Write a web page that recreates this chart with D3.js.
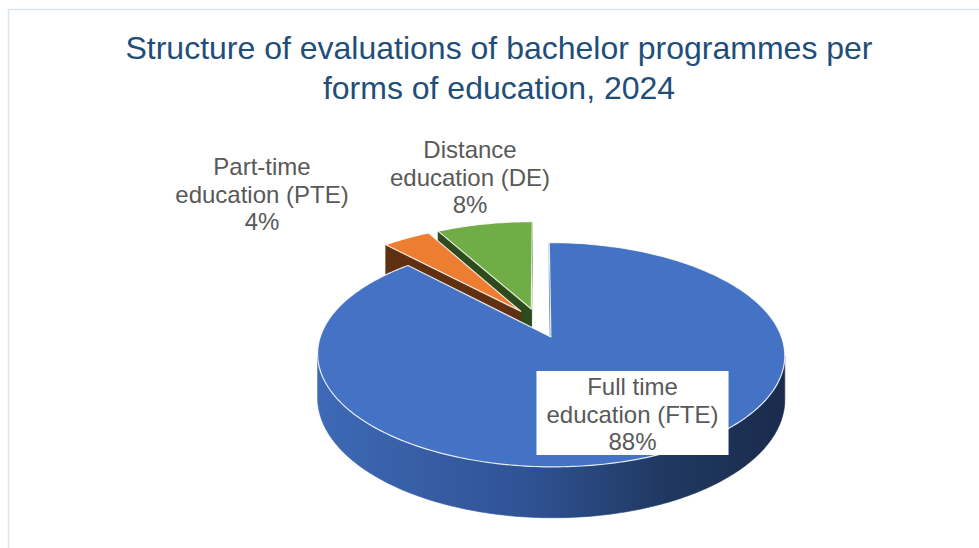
<!DOCTYPE html>
<html>
<head>
<meta charset="utf-8">
<script src="https://cdn.jsdelivr.net/npm/d3@7"></script>
<style>
  body { margin: 0; background: #fff; }
  svg { display: block; }
  text { font-family: "Liberation Sans", Arial, sans-serif; }
</style>
</head>
<body>
<div id="chart"></div>
<script>
// data
const titleLines = ["Structure of evaluations of bachelor programmes per", "forms of education, 2024"];
const categories = ["Full time education (FTE)", "Part-time education (PTE)", "Distance education (DE)"];
const labelLines = [["Full time", "education (FTE)"], ["Part-time", "education (PTE)"], ["Distance", "education (DE)"]];
const shares = [88, 4, 8];

// styling
const topColors = ["#4472C4", "#ED7D31", "#70AD47"];
const sideColors = ["#2c4c8c", "#5f3112", "#2e4b1e"];

const width = 979, height = 548;

// 3d pie layout (tilted disc with a little perspective)
const cx = 539, cy = 323;     // projected centre of top face
const Sx = 226, Sy = 105;     // radii of the disc on screen
const persp = 0.155;          // foreshortening of far side
const depth = 42;             // thickness of the disc
const explode = 0.14;         // share of radius each slice is pulled out

// where the labels sit (centre x, first baseline)
const labelPos = [
  { x: 632.5, y: 395, box: true },
  { x: 262, y: 175 },
  { x: 470, y: 158 }
];
const lineGap = 27.5;

const svg = d3.select("#chart")
  .append("svg")
  .attr("width", width)
  .attr("height", height);

// chart area border (runs off the page right and bottom)
svg.append("rect")
  .attr("x", 8.5)
  .attr("y", 9.5)
  .attr("width", width + 20)
  .attr("height", height + 20)
  .attr("fill", "none")
  .attr("stroke", "#d9e4f1")
  .attr("stroke-width", 1.5);

// title
svg.append("text")
  .attr("text-anchor", "middle")
  .attr("fill", "#1f4e79")
  .style("font-size", "32px")
  .selectAll("tspan")
  .data(titleLines)
  .join("tspan")
  .attr("x", 499)
  .attr("y", (d, i) => 59 + i * 40)
  .text(d => d);

// pie angles: 0 at twelve o'clock, clockwise
const pie = d3.pie().sort(null).value(d => d);
const arcs = pie(shares);

function project(u, w, h) {
  const p = 1 / (1 + persp * w);
  return [cx + Sx * u * p, cy - Sy * w * p + depth * h * p];
}

const slices = arcs.map((a, i) => {
  const mid = (a.startAngle + a.endAngle) / 2;
  return {
    i,
    a0: a.startAngle,
    a1: a.endAngle,
    mid,
    u0: explode * Math.sin(mid),
    w0: explode * Math.cos(mid)
  };
});

function rim(s, t, h) {
  return project(s.u0 + Math.sin(t), s.w0 + Math.cos(t), h);
}

function arcPoints(s, t0, t1, h) {
  const n = Math.max(2, Math.ceil(Math.abs(t1 - t0) / (Math.PI / 180)));
  return d3.range(n + 1).map(j => rim(s, t0 + (t1 - t0) * j / n, h));
}

// silhouette angles of the curved side (x extremes of the rim)
function silhouette(s) {
  const steps = d3.range(0, 1801).map(j => j * Math.PI / 1800);
  const tR = d3.greatest(steps, t => rim(s, t, 0)[0]);
  const tL = d3.least(steps.map(t => t + Math.PI), t => rim(s, t, 0)[0]);
  return [tR, tL];
}

const path = pts => "M" + pts.map(p => p[0].toFixed(2) + "," + p[1].toFixed(2)).join("L") + "Z";

// gradient for the big slice's outer wall
const [gR, gL] = silhouette(slices[0]);
const grad = svg.append("defs").append("linearGradient")
  .attr("id", "sideGrad")
  .attr("gradientUnits", "userSpaceOnUse")
  .attr("x1", rim(slices[0], gL, 0)[0])
  .attr("x2", rim(slices[0], gR, 0)[0])
  .attr("y1", 0).attr("y2", 0);
[["0", "#3e69b6"], ["0.45", "#2f5294"], ["0.75", "#203860"], ["1", "#1a2b4c"]].forEach(([o, c]) =>
  grad.append("stop").attr("offset", o).attr("stop-color", c));

// paint far slices first
const order = slices.slice().sort((a, b) =>
  (b.w0 + 0.5 * Math.cos(b.mid)) - (a.w0 + 0.5 * Math.cos(a.mid)));

const pieG = svg.append("g");

order.forEach(s => {
  const g = pieG.append("g");
  const sideFill = s.i === 0 ? "url(#sideGrad)" : sideColors[s.i];
  const c0 = project(s.u0, s.w0, 0), c1 = project(s.u0, s.w0, 1);

  // radial walls, kept only when facing the viewer
  const walls = [
    [c0, rim(s, s.a0, 0), rim(s, s.a0, 1), c1],
    [c0, c1, rim(s, s.a1, 1), rim(s, s.a1, 0)]
  ];
  walls.filter(q => d3.polygonArea(q) > 0).forEach(q => {
    g.append("path")
      .attr("d", path(q))
      .attr("fill", sideColors[s.i])
      .attr("stroke", sideColors[s.i])
      .attr("stroke-width", 0.6);
  });

  // curved outer wall
  const [tR, tL] = silhouette(s);
  const t0 = Math.max(s.a0, tR), t1 = Math.min(s.a1, tL);
  if (t1 > t0) {
    const pts = arcPoints(s, t0, t1, 0).concat(arcPoints(s, t1, t0, 1));
    g.append("path")
      .attr("d", path(pts))
      .attr("fill", sideFill)
      .attr("stroke", sideFill)
      .attr("stroke-width", 0.6);
  }

  // top face
  g.append("path")
    .attr("d", path([c0].concat(arcPoints(s, s.a0, s.a1, 0))))
    .attr("fill", topColors[s.i])
    .attr("stroke", "#ffffff")
    .attr("stroke-opacity", 0.85)
    .attr("stroke-width", 1.2)
    .attr("stroke-linejoin", "round")
    .append("title")
    .text(`${categories[s.i]}: ${shares[s.i]}%`);
});

// data labels
slices.forEach(s => {
  const pos = labelPos[s.i];
  const lines = labelLines[s.i].concat([shares[s.i] + "%"]);
  const lg = svg.append("g");
  const txt = lg.append("text")
    .attr("text-anchor", "middle")
    .attr("fill", "#595959")
    .style("font-size", "24px");
  txt.selectAll("tspan")
    .data(lines)
    .join("tspan")
    .attr("x", pos.x)
    .attr("y", (d, j) => pos.y + j * lineGap)
    .text(d => d);
  if (pos.box) {
    const bb = txt.node().getBBox();
    lg.insert("rect", "text")
      .attr("x", bb.x - 10)
      .attr("y", bb.y - 2)
      .attr("width", bb.width + 20)
      .attr("height", bb.height + 2)
      .attr("fill", "#ffffff");
  }
});
</script>
</body>
</html>
